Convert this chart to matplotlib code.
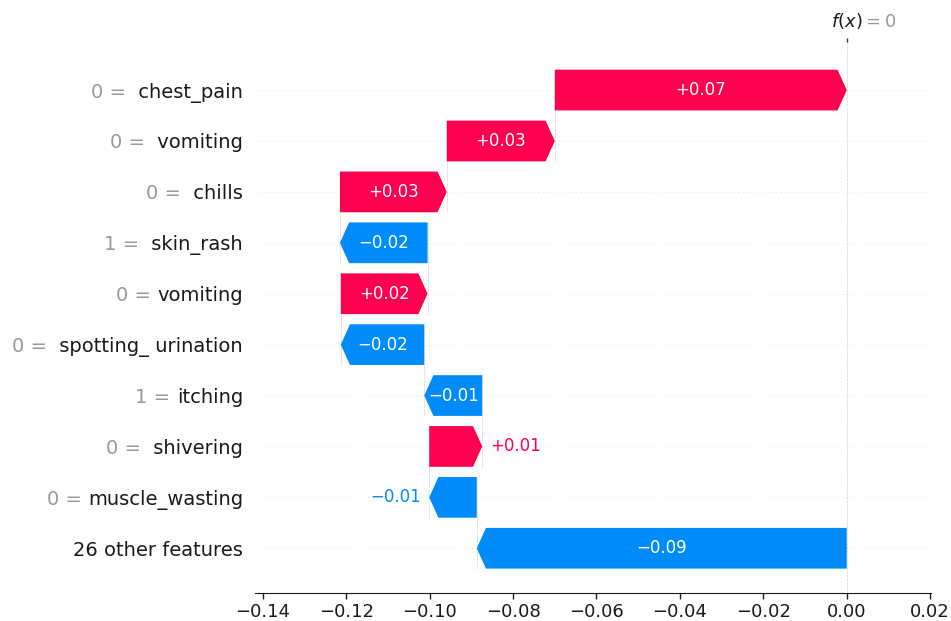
import matplotlib
matplotlib.use("Agg")
import matplotlib.pyplot as plt
import numpy as np

# rows go bottom -> top, each bar starts where the one below it stopped
features = ["26 other features", "muscle_wasting", " shivering", "itching",
            " spotting_ urination", "vomiting", " skin_rash", " chills",
            " vomiting", " chest_pain"]
feature_vals = [None, 0, 0, 1, 0, 0, 1, 0, 0, 0]
shap_vals = [-0.0887, -0.0114, 0.0127, -0.0139, -0.0200, 0.0208, -0.0210,
             0.0256, 0.0259, 0.0700]
base_value = 0.0
xticks = [-0.14, -0.12, -0.10, -0.08, -0.06, -0.04, -0.02, 0.00, 0.02]

red = "#ff0051"
blue = "#008bfb"
head = 0.0022


def fmt(v):
    return ("%+0.02f" % v).replace("-", "\u2212")


fig = plt.figure(figsize=(9.51, 6.21), dpi=100)
ax = fig.add_axes([0.268, 0.045, 0.711, 0.887])
n = len(features)
ax.set_xlim(-0.1419, 0.0202)
ax.set_ylim(-0.88, 9.94)

# running totals
lefts = []
cur = base_value
for v in shap_vals:
    lefts.append(cur)
    cur += v
fx = cur

for i in range(n):
    ax.axhline(i, color="#cccccc", lw=0.5, dashes=(1, 5), zorder=-1)

ax.axvline(fx, color="#bbbbbb", lw=0.5, linestyle="--", dashes=(1, 1), zorder=-1)

renderer = fig.canvas.get_renderer()
for i, (start, v) in enumerate(zip(lefts, shap_vals)):
    dist = abs(v)
    sgn = 1 if v > 0 else -1
    col = red if v > 0 else blue
    hl = min(dist, head)
    arr = ax.arrow(start, i, sgn * max(dist - hl, 1e-6), 0, head_length=hl,
                   width=0.8, head_width=0.8, color=col, lw=0, zorder=3)
    end = start + v
    # dotted connector to the next bar up
    if i < n - 1:
        ax.plot([end, end], [i - 0.4, i + 1 + 0.4], color="#bbbbbb", lw=0.5,
                linestyle="--", dashes=(1, 1), zorder=1)
    txt = ax.text(start + v / 2, i, fmt(v), ha="center", va="center",
                  color="white", fontsize=12, zorder=4)
    tw = txt.get_window_extent(renderer=renderer).width
    aw = arr.get_window_extent(renderer=renderer).width
    if tw + 4 > aw:
        txt.remove()
        if v > 0:
            ax.annotate(fmt(v), (end, i), xytext=(6, 0), textcoords="offset points",
                        ha="left", va="center", color=col, fontsize=12)
        else:
            ax.annotate(fmt(v), (end, i), xytext=(-6, 0), textcoords="offset points",
                        ha="right", va="center", color=col, fontsize=12)

# y labels: feature name in black, its value in gray just to the left
pos = np.arange(n)
ypad = 8.5
ax.set_yticks(pos)
ax.set_yticklabels(features, fontsize=14, color="#1a1a1a")
ax.tick_params(axis="y", length=0, pad=ypad)
fig.canvas.draw()
space_w = ax.text(0, 0, "0 ", fontsize=14).get_window_extent(renderer=renderer).width \
    - ax.text(0, 0, "0", fontsize=14).get_window_extent(renderer=renderer).width
for t in ax.texts[-2:]:
    t.remove()
for i, lab in enumerate(ax.get_yticklabels()):
    if feature_vals[i] is None:
        continue
    w = lab.get_window_extent(renderer=renderer).width + space_w
    off = -(ypad + w * 72 / fig.dpi)
    ax.annotate("%d =" % feature_vals[i], (0, i), xycoords=ax.get_yaxis_transform(),
                xytext=(off, 0), textcoords="offset points", ha="right",
                va="center_baseline", fontsize=14, color="#999999")

ax.set_xticks(xticks)
ax.set_xticklabels([("%.2f" % t).replace("-", "\u2212") for t in xticks], fontsize=13)
ax.tick_params(axis="x", direction="out", length=4, width=1, colors="#1a1a1a")

for s in ["left", "right", "top"]:
    ax.spines[s].set_visible(False)
ax.spines["bottom"].set_color("#1a1a1a")

# f(x) marker on top
ax2 = ax.twiny()
ax2.set_xlim(ax.get_xlim())
ax2.set_xticks([fx])
ax2.set_xticklabels([""])
ax2.tick_params(axis="x", length=3, width=1, colors="#333333")
for s in ax2.spines.values():
    s.set_visible(False)
ax2.annotate("$f(x)$", (fx, 1), xycoords=("data", "axes fraction"),
             xytext=(0, 8), textcoords="offset points", ha="center", va="bottom",
             fontsize=13, color="#1a1a1a")
ax2.annotate("$ = 0$", (fx, 1), xycoords=("data", "axes fraction"),
             xytext=(11, 8), textcoords="offset points", ha="left", va="bottom",
             fontsize=13, color="#999999")

fig.savefig("out.png", dpi=100)
